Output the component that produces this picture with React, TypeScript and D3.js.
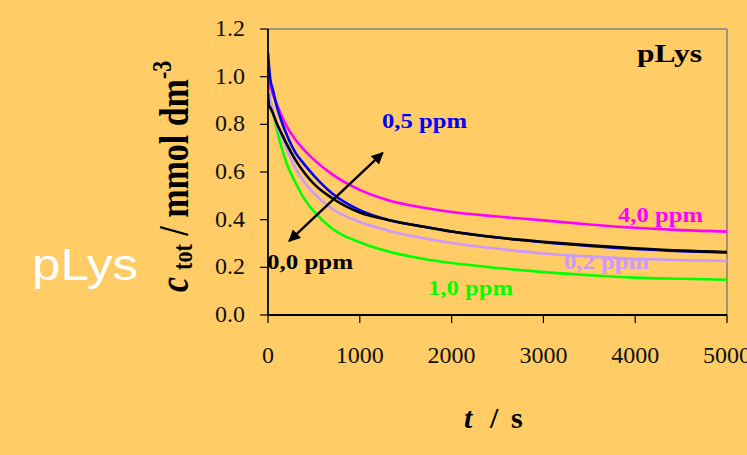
import React from "react";
import * as d3 from "d3";

const times = [0, 10, 25, 50, 100, 150, 200, 300, 400, 500, 700, 1000, 1300, 1700, 2000, 2500, 3000, 3500, 4000, 4500, 5000];
const ppm40 = [0.99, 0.975, 0.96, 0.93, 0.88, 0.835, 0.795, 0.735, 0.69, 0.652, 0.59, 0.525, 0.483, 0.45, 0.432, 0.413, 0.397, 0.38, 0.366, 0.356, 0.35];
const ppm05 = [1.10, 1.05, 0.99, 0.95, 0.87, 0.81, 0.76, 0.68, 0.63, 0.585, 0.51, 0.44, 0.40, 0.37, 0.35, 0.325, 0.305, 0.29, 0.277, 0.268, 0.262];
const ppm00 = [0.93, 0.88, 0.87, 0.85, 0.80, 0.76, 0.72, 0.65, 0.595, 0.55, 0.49, 0.43, 0.40, 0.37, 0.35, 0.325, 0.307, 0.292, 0.28, 0.27, 0.264];
const ppm02 = [0.96, 0.93, 0.90, 0.86, 0.79, 0.745, 0.70, 0.615, 0.555, 0.51, 0.445, 0.39, 0.355, 0.322, 0.302, 0.278, 0.258, 0.245, 0.236, 0.23, 0.227];
const ppm10 = [0.96, 0.93, 0.90, 0.86, 0.77, 0.70, 0.64, 0.555, 0.485, 0.435, 0.362, 0.305, 0.267, 0.235, 0.218, 0.197, 0.18, 0.167, 0.157, 0.152, 0.148];

const xTicks = [0, 1000, 2000, 3000, 4000, 5000];
const yTicks = [0, 0.2, 0.4, 0.6, 0.8, 1.0, 1.2];

const series = [
  { name: "1,0 ppm", values: ppm10, color: "#00FF00" },
  { name: "0,2 ppm", values: ppm02, color: "#CC99FF" },
  { name: "4,0 ppm", values: ppm40, color: "#FF00FF" },
  { name: "0,5 ppm", values: ppm05, color: "#0000FF" },
  { name: "0,0 ppm", values: ppm00, color: "#000000" },
];

const W = 747, H = 455;
const L = 268, R = 727, T = 29, B = 315;

export default function App() {
  const x = d3.scaleLinear().domain([0, 5000]).range([L, R]);
  const y = d3.scaleLinear().domain([0, 1.2]).range([B, T]);
  const line = d3.line<[number, number]>().x(d => x(d[0])).y(d => y(d[1])).curve(d3.curveMonotoneX);
  const serif = "'Liberation Serif', 'Times New Roman', serif";

  return (
    <svg width={W} height={H} style={{ position: "absolute", left: 0, top: 0 }}>
      <defs>
        <marker id="ah" viewBox="0 0 10 10" refX="9" refY="5" markerWidth="5" markerHeight="5" orient="auto-start-reverse">
          <path d="M0,0 L10,5 L0,10 z" fill="#000" />
        </marker>
        <clipPath id="plot"><rect x={L} y={T - 10} width={R - L + 2} height={B - T + 10} /></clipPath>
      </defs>
      <rect x={0} y={0} width={W} height={H} fill="#FFCC66" />
      {/* frame */}
      <line x1={L} y1={T} x2={R} y2={T} stroke="#808080" strokeWidth={1.5} />
      <line x1={R} y1={T} x2={R} y2={B} stroke="#808080" strokeWidth={1.5} />
      {/* series */}
      <g clipPath="url(#plot)">
        {series.map(s => (
          <path key={s.name} d={line(times.map((t, i) => [t, s.values[i]]))!} fill="none" stroke={s.color} strokeWidth={2.6} />
        ))}
      </g>
      {/* axes */}
      <line x1={L} y1={T} x2={L} y2={B} stroke="#000" strokeWidth={1.8} />
      <line x1={L} y1={B} x2={R} y2={B} stroke="#000" strokeWidth={1.8} />
      {yTicks.map(v => (
        <g key={"y" + v}>
          <line x1={L - 8} x2={L} y1={y(v)} y2={y(v)} stroke="#000" strokeWidth={1.2} />
          <text x={245} y={y(v) + 7} textAnchor="end" fontFamily={serif} fontSize={24} fill="#111">{v.toFixed(1)}</text>
        </g>
      ))}
      {xTicks.map(v => (
        <g key={"x" + v}>
          <line x1={x(v)} x2={x(v)} y1={B} y2={B + 8} stroke="#000" strokeWidth={1.2} />
          <text x={x(v)} y={363} textAnchor="middle" fontFamily={serif} fontSize={24} fill="#111">{v}</text>
        </g>
      ))}
      {/* arrow */}
      <line x1={x(230)} y1={y(0.31)} x2={x(1250)} y2={y(0.68)} stroke="#000" strokeWidth={2.4}
        markerStart="url(#ah)" markerEnd="url(#ah)" />
      {/* series labels */}
      <text x={382} y={128} fontFamily={serif} fontWeight="bold" fontSize={21} fill="#0000FF" textLength={85} lengthAdjust="spacingAndGlyphs">0,5 ppm</text>
      <text x={618} y={222} fontFamily={serif} fontWeight="bold" fontSize={21} fill="#FF00FF" textLength={85} lengthAdjust="spacingAndGlyphs">4,0 ppm</text>
      <text x={564} y={269} fontFamily={serif} fontWeight="bold" fontSize={21} fill="#CC99FF" textLength={85} lengthAdjust="spacingAndGlyphs">0,2 ppm</text>
      <text x={428} y={295} fontFamily={serif} fontWeight="bold" fontSize={21} fill="#00FF00" textLength={85} lengthAdjust="spacingAndGlyphs">1,0 ppm</text>
      <text x={267} y={269} fontFamily={serif} fontWeight="bold" fontSize={21} fill="#000" textLength={86} lengthAdjust="spacingAndGlyphs">0,0 ppm</text>
      <text x={637} y={62} fontFamily={serif} fontWeight="bold" fontSize={25} fill="#000" textLength={65} lengthAdjust="spacingAndGlyphs">pLys</text>
      {/* left big label */}
      <text x={32} y={280} fontFamily="'Liberation Sans', Arial, sans-serif" fontSize={44} fill="#FFFFFF" textLength={106} lengthAdjust="spacingAndGlyphs">pLys</text>
      {/* y axis title */}
      <g transform="translate(188,292) scale(1.25,1) rotate(-90)">
        <text x={0} y={0} fontFamily={serif} fontWeight="bold" fontSize={34} fill="#000">
          <tspan fontStyle="italic">c</tspan>
          <tspan dx={7} fontSize={22} dy={3}>tot</tspan>
          <tspan dy={-3}> / mmol dm</tspan>
          <tspan fontSize={22} dy={-14}>-3</tspan>
        </text>
      </g>
      {/* x axis title */}
      <text y={428} fontFamily={serif} fontWeight="bold" fontSize={30} fill="#000">
        <tspan x={464} fontStyle="italic">t</tspan>
        <tspan x={490}>/</tspan>
        <tspan x={511}>s</tspan>
      </text>
    </svg>
  );
}
